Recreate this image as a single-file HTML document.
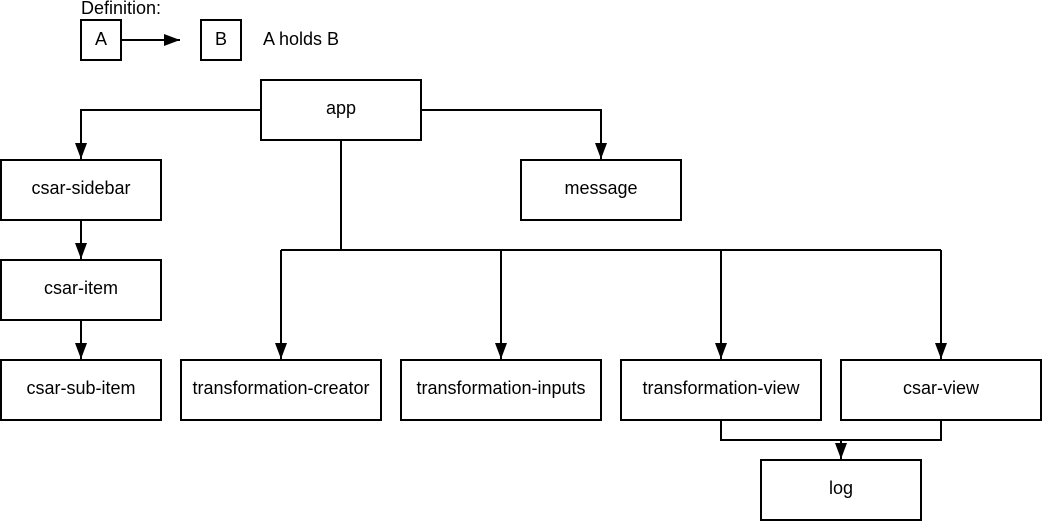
<!DOCTYPE html>
<html><head><style>
html,body{margin:0;padding:0;background:#fff;}
svg{display:block;}
text{font-family:"Liberation Sans",Arial,sans-serif;font-size:18px;fill:#000;}
</style></head><body>
<svg width="1042" height="521" viewBox="0 0 1042 521" xmlns="http://www.w3.org/2000/svg">
<defs>
<marker id="a" markerWidth="16" markerHeight="12" refX="16" refY="6" orient="auto" markerUnits="userSpaceOnUse">
<path d="M0,0 L16,6 L0,12 Z" fill="#000"/>
</marker>
</defs>
<g fill="none" stroke="#000" stroke-width="2">
<rect x="81" y="20" width="40" height="40"/>
<rect x="201" y="20" width="40" height="40"/>
<rect x="261" y="80" width="160" height="60"/>
<rect x="1" y="160" width="160" height="60"/>
<rect x="521" y="160" width="160" height="60"/>
<rect x="1" y="260" width="160" height="60"/>
<rect x="1" y="360" width="160" height="60"/>
<rect x="181" y="360" width="200" height="60"/>
<rect x="401" y="360" width="200" height="60"/>
<rect x="621" y="360" width="200" height="60"/>
<rect x="841" y="360" width="200" height="60"/>
<rect x="761" y="460" width="160" height="60"/>
<path d="M121,40 H180" marker-end="url(#a)"/>
<path d="M261,110 H81 V159" marker-end="url(#a)"/>
<path d="M421,110 H601 V159" marker-end="url(#a)"/>
<path d="M81,220 V259" marker-end="url(#a)"/>
<path d="M81,320 V359" marker-end="url(#a)"/>
<path d="M341,140 V250"/>
<path d="M281,250 H941"/>
<path d="M281,250 V359" marker-end="url(#a)"/>
<path d="M501,250 V359" marker-end="url(#a)"/>
<path d="M721,250 V359" marker-end="url(#a)"/>
<path d="M941,250 V359" marker-end="url(#a)"/>
<path d="M721,420 V440 H941 V420"/>
<path d="M841,440 V459" marker-end="url(#a)"/>
</g>
<g text-anchor="middle">
<text x="101" y="45">A</text>
<text x="221" y="45">B</text>
<text x="341" y="114">app</text>
<text x="81" y="194">csar-sidebar</text>
<text x="601" y="194">message</text>
<text x="81" y="294">csar-item</text>
<text x="81" y="394">csar-sub-item</text>
<text x="281" y="394">transformation-creator</text>
<text x="501" y="394">transformation-inputs</text>
<text x="721" y="394">transformation-view</text>
<text x="941" y="394">csar-view</text>
<text x="841" y="494">log</text>
</g>
<text x="81" y="14">Definition:</text>
<text x="263" y="45">A holds B</text>
</svg>
</body></html>
